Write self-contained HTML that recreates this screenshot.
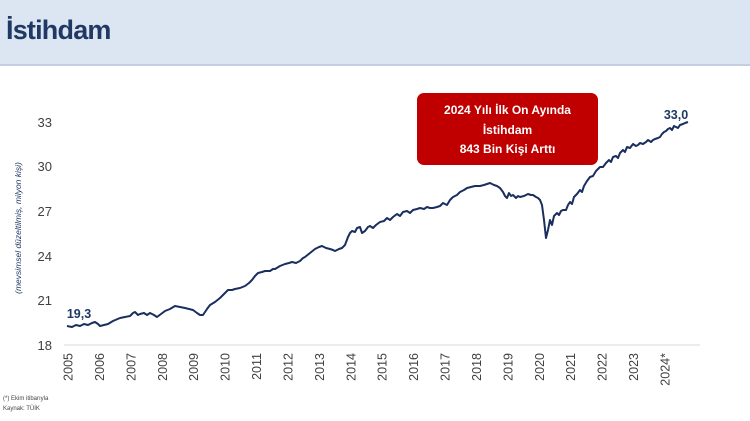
<!DOCTYPE html>
<html><head><meta charset="utf-8"><style>
body{margin:0;width:750px;height:421px;background:#fff;overflow:hidden;font-family:"Liberation Sans",sans-serif;position:relative}
.hdr{position:absolute;left:0;top:0;width:750px;height:64px;background:#dce6f2;border-bottom:2px solid #c3cfe0}
.hdr span{position:absolute;left:6px;top:15px;font-size:27px;font-weight:bold;color:#1f3864;letter-spacing:-0.8px}
.box{position:absolute;left:417px;top:93px;width:181px;height:72px;background:#c00000;border-radius:7px;color:#fff;font-weight:bold;font-size:12px;text-align:center;line-height:19.5px;padding-top:8px;box-sizing:border-box}
.fn{position:absolute;left:3px;font-size:6px;color:#444}
</style></head><body>
<div class="hdr"><span>İstihdam</span></div>
<svg width="750" height="421" style="position:absolute;left:0;top:0">
<line x1="64" y1="345" x2="700" y2="345" stroke="#d9d9d9" stroke-width="1"/>
<g font-size="13" fill="#404040" text-anchor="end">
<text x="52" y="127">33</text><text x="52" y="171">30</text><text x="52" y="216">27</text>
<text x="52" y="261">24</text><text x="52" y="305">21</text><text x="52" y="350">18</text>
</g>
<text transform="translate(21,228) rotate(-90)" font-size="8.5" font-style="italic" fill="#1f3864" text-anchor="middle">(mevsimsel düzeltilmiş, milyon kişi)</text>
<g font-size="12.5" fill="#404040" text-anchor="end">
<text transform="translate(72.5,353) rotate(-90)">2005</text>
<text transform="translate(103.9,353) rotate(-90)">2006</text>
<text transform="translate(135.3,353) rotate(-90)">2007</text>
<text transform="translate(166.8,353) rotate(-90)">2008</text>
<text transform="translate(198.2,353) rotate(-90)">2009</text>
<text transform="translate(229.6,353) rotate(-90)">2010</text>
<text transform="translate(261,353) rotate(-90)">2011</text>
<text transform="translate(292.4,353) rotate(-90)">2012</text>
<text transform="translate(323.9,353) rotate(-90)">2013</text>
<text transform="translate(355.3,353) rotate(-90)">2014</text>
<text transform="translate(386.7,353) rotate(-90)">2015</text>
<text transform="translate(418.1,353) rotate(-90)">2016</text>
<text transform="translate(449.5,353) rotate(-90)">2017</text>
<text transform="translate(481,353) rotate(-90)">2018</text>
<text transform="translate(512.4,353) rotate(-90)">2019</text>
<text transform="translate(543.8,353) rotate(-90)">2020</text>
<text transform="translate(575.2,353) rotate(-90)">2021</text>
<text transform="translate(606.6,353) rotate(-90)">2022</text>
<text transform="translate(638.1,353) rotate(-90)">2023</text>
<text transform="translate(669.5,353) rotate(-90)">2024*</text>
</g>
<polyline fill="none" stroke="#1a2f5e" stroke-width="2" stroke-linejoin="round" points="67,326 72,327 76,325 80,326 84,324 88,325 92,323 95,322 98,324 100,326 104,325 108,324 113,321 120,318 125,317 130,316 133,313 135,312 138,315 140,314 144,313 147,315 150,313 154,315 157,317 161,314 165,311 170,309 175,306 180,307 185,308 189,309 193,310 197,313 200,315 203,315 207,309 210,305 215,302 220,298 224,294 228,290 232,290 235,289 240,288 245,286 249,283 252,280 255,276 258,273 262,272 265,271 270,271 273,269 275,269 280,266 285,264 289,263 292,262 296,263 300,261 303,258 305,257 310,253 315,249 319,247 322,246 326,248 330,249 333,250 335,251 339,249 342,248 345,245 348,237 350,233 352,231 355,232 357,228 360,227 362,233 365,231 368,227 370,226 373,228 376,225 380,222 384,221 387,218 390,220 393,217 397,214 400,216 403,212 407,211 410,213 413,210 417,209 420,208 424,209 427,207 430,208 433,208 437,207 440,206 443,203 447,205 450,200 453,197 457,195 460,192 464,190 467,188 471,187 475,186 480,186 484,185 487,184 490,183 494,185 497,186 500,188 503,192 505,196 507,198 509,193 511,196 513,195 516,198 518,196 520,197 524,196 528,194 531,195 533,195 536,197 538,198 540,200 542,205 544,220 546,238 548,230 550,220 552,225 554,216 557,213 559,215 561,211 563,210 566,210 568,205 570,202 572,204 574,197 577,194 580,190 582,192 584,186 587,181 590,177 593,176 596,171 598,169 600,167 603,167 606,163 609,160 611,162 613,157 616,156 618,158 620,153 623,150 625,152 627,147 630,148 633,144 636,146 638,145 640,143 643,144 646,142 648,140 651,142 653,140 655,139 658,138 660,137 662,134 664,132 666,131 668,129 670,128 672,130 674,126 676,127 678,128 680,125 683,124 685,123 688,122"/>
<text x="79" y="318" font-size="12.5" font-weight="bold" fill="#1f3864" text-anchor="middle">19,3</text>
<text x="676" y="119" font-size="12.5" font-weight="bold" fill="#1f3864" text-anchor="middle">33,0</text>
</svg>
<div class="box">2024 Yılı İlk On Ayında<br>İstihdam<br>843 Bin Kişi Arttı</div>
<div class="fn" style="top:396px">(*) Ekim itibarıyla</div>
<div class="fn" style="top:406px">Kaynak: TÜİK</div>
</body></html>
